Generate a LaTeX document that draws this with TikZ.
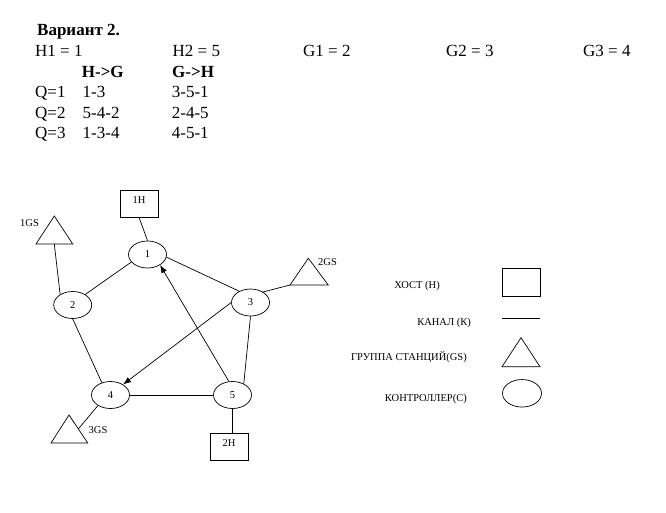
\documentclass[tikz,border=0pt]{standalone}
\usepackage{fontspec}
\setmainfont{Liberation Serif}
\usetikzlibrary{arrows.meta,shapes.geometric}
\begin{document}
\begin{tikzpicture}[x=1pt,y=-1pt,
  hdr/.style={anchor=base west, inner sep=0pt, font=\fontsize{17}{20}\selectfont},
  hdrb/.style={anchor=base west, inner sep=0pt, font=\fontsize{17}{20}\selectfont\bfseries},
  ctrl/.style={draw, ellipse, line width=0.7pt, minimum width=38pt, minimum height=27pt, inner sep=0pt, font=\fontsize{10.5}{12}\selectfont},
  host/.style={draw, rectangle, line width=0.7pt, minimum width=38pt, minimum height=27pt, inner sep=0pt, text height=7pt, text depth=8pt, font=\fontsize{10.5}{12}\selectfont},
  lab/.style={inner sep=0pt, font=\fontsize{10.5}{12}\selectfont},
  link/.style={draw, line width=0.7pt},
  arr/.style={draw, line width=0.7pt, -{Latex[length=8pt,width=6pt]}},
]
\fill[white] (0,0) rectangle (666,512);
\useasboundingbox (0,0) rectangle (666,512);

% header text
\node[hdrb] (title) at (37,35) {Вариант 2.};
\node[hdr] (h1t) at (35,56) {H1 = 1};
\node[hdr] (h2t) at (172.5,56) {H2 = 5};
\node[hdr] (g1t) at (303,56) {G1 = 2};
\node[hdr] (g2t) at (446,56) {G2 = 3};
\node[hdr] (g3t) at (583,56) {G3 = 4};
\node[hdrb] (hg) at (81.7,77) {H->G};
\node[hdrb] (gh) at (172,77) {G->H};
\node[hdr] (q1) at (35,97.5) {Q=1};
\node[hdr] (q1a) at (82.5,97.5) {1-3};
\node[hdr] (q1b) at (171.7,97.5) {3-5-1};
\node[hdr] (q2) at (35,118) {Q=2};
\node[hdr] (q2a) at (82.5,118) {5-4-2};
\node[hdr] (q2b) at (171.7,118) {2-4-5};
\node[hdr] (q3) at (35,138.5) {Q=3};
\node[hdr] (q3a) at (82.5,138.5) {1-3-4};
\node[hdr] (q3b) at (171.7,138.5) {4-5-1};

% controllers
\node[ctrl] (e1) at (147.5,254.5) {1};
\node[ctrl] (e2) at (72.7,305) {2};
\node[ctrl] (e3) at (250.5,302.5) {3};
\node[ctrl] (e4) at (110.5,395) {4};
\node[ctrl] (e5) at (232.5,395) {5};

% hosts
\node[host] (h1) at (139,203.5) {1H};
\node[host] (h2) at (229,446.5) {2H};

% station groups (triangles)
\coordinate (g1a) at (54.3,216);
\coordinate (g1l) at (36,244);
\coordinate (g1r) at (72.7,244);
\coordinate (g1b) at (54.3,244);
\draw[link] (g1a) -- (g1l) -- (g1r) -- cycle;
\node[lab, anchor=west] (g1lab) at (20,223) {1GS};

\coordinate (g2a) at (308.3,258.3);
\coordinate (g2l) at (290,285);
\coordinate (g2r) at (328.3,285);
\draw[link] (g2a) -- (g2l) -- (g2r) -- cycle;
\node[lab, anchor=west] (g2lab) at (318,262.5) {2GS};

\coordinate (g3a) at (69,415);
\coordinate (g3l) at (51,443);
\coordinate (g3r) at (87.7,443);
\coordinate (g3m) at (78.3,429);
\draw[link] (g3a) -- (g3l) -- (g3r) -- cycle;
\node[lab, anchor=west] (g3lab) at (88.5,430) {3GS};

% links
\draw[link] (h1.south) -- (e1.north);
\draw[link] (g1b) -- (e2.140);
\draw[link] (e1.205) -- (e2.40);
\draw[link] (e1.-8) -- (e3.135);
\draw[link] (e3.40) -- (g2l);
\draw[link] (e3.south) -- (e5.45);
\draw[link] (e2.south) -- (e4.125);
\draw[link] (e4.east) -- (e5.west);
\draw[link] (e4.220) -- (g3m);
\draw[link] (e5.south) -- (e5.south |- h2.north);
\draw[arr] (e3.west) -- (e4.40);
\draw[arr] (e5.105) -- (e1.-40);

% legend
\node[lab, anchor=east] (lhost) at (440,286) {ХОСТ (Н)};
\node[draw, rectangle, line width=0.7pt, minimum width=38pt, minimum height=28pt, inner sep=0pt] (lbox) at (521,282) {};
\node[lab, anchor=east] (lchan) at (471,322.5) {КАНАЛ (К)};
\coordinate (lla) at (502,318);
\coordinate (llb) at (540,318);
\draw[link] (lla) -- (llb);
\node[lab, anchor=east] (lgs) at (467,357) {ГРУППА СТАНЦИЙ(GS)};
\coordinate (lta) at (521,337.7);
\coordinate (ltl) at (502,366.7);
\coordinate (ltr) at (540,366.7);
\draw[link] (lta) -- (ltl) -- (ltr) -- cycle;
\node[lab, anchor=east] (lctrl) at (467,398.5) {КОНТРОЛЛЕР(С)};
\node[draw, ellipse, line width=0.7pt, minimum width=39pt, minimum height=27.5pt, inner sep=0pt] (lell) at (522,393.3) {};
\end{tikzpicture}
\end{document}
